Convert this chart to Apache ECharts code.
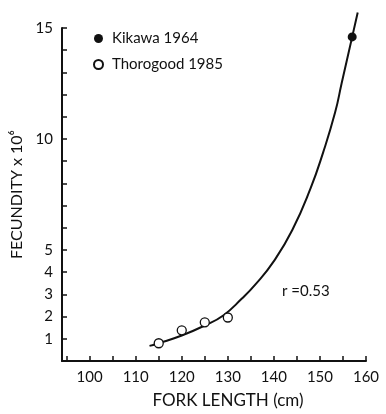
<!DOCTYPE html>
<html>
<head>
<meta charset="utf-8">
<script src="https://cdn.jsdelivr.net/npm/echarts@6/dist/echarts.min.js"></script>
<style>
  html, body { margin: 0; padding: 0; background: #fff; }
  #chart { width: 386px; height: 414px; }
</style>
</head>
<body>
<div id="chart"></div>
<script>
// fitted curve
var curveX = [113, 115, 120, 125, 129, 133, 136, 140, 144, 148, 150.7, 153.3, 154.7, 157, 158.2];
var curveY = [0.68, 0.8, 1.15, 1.6, 2.05, 2.8, 3.45, 4.5, 5.9, 7.8, 9.4, 11.2, 12.5, 14.6, 15.7];

var kikawaX = [157];
var kikawaY = [14.6];
var thorogoodX = [115, 120, 125, 130];
var thorogoodY = [0.8, 1.38, 1.74, 1.96];

var xTicks = [95, 100, 105, 110, 115, 120, 125, 130, 135, 140, 145, 150, 155, 160];
var xLabels = [100, 110, 120, 130, 140, 150, 160];
var yTicks = [1, 2, 3, 4, 5, 6, 7, 8, 9, 10, 11, 12, 13, 14, 15];
var yLabels = [1, 2, 3, 4, 5, 10, 15];

function pairs(xs, ys) {
  var out = [];
  for (var i = 0; i < xs.length; i++) out.push([xs[i], ys[i]]);
  return out;
}

var font = "Lato";
var myChart = echarts.init(document.getElementById("chart"));
var option = {
  animation: false,
  textStyle: { fontFamily: font, color: "#111" },
  grid: { left: 62, right: 20, top: 28, bottom: 50 },
  legend: {
    orient: "vertical",
    left: 88,
    top: 26,
    itemWidth: 9,
    itemHeight: 9,
    itemGap: 11,
    textStyle: { fontFamily: font, fontSize: 15, color: "#111", padding: [0, 0, 0, 4] },
    data: [
      { name: "Kikawa 1964", icon: "circle" },
      { name: "Thorogood 1985", icon: "circle" },
    ],
  },
  xAxis: {
    type: "value",
    min: 94,
    max: 160,
    name: "FORK LENGTH (cm)",
    nameLocation: "middle",
    nameGap: 31,
    nameTextStyle: { fontFamily: font, fontSize: 17, color: "#111", padding: [0, 0, 0, 28] },
    splitLine: { show: false },
    axisLine: { lineStyle: { color: "#111", width: 2 } },
    axisTick: { inside: true, length: 5, customValues: xTicks, lineStyle: { color: "#111", width: 1.5 } },
    axisLabel: { customValues: xLabels, fontSize: 15, margin: 9, color: "#111" },
  },
  yAxis: {
    type: "value",
    min: 0,
    max: 15,
    name: "FECUNDITY x 10\u2076",
    nameLocation: "middle",
    nameRotate: 90,
    nameGap: 31,
    nameTextStyle: { fontFamily: font, fontSize: 16, color: "#111" },
    splitLine: { show: false },
    axisLine: { lineStyle: { color: "#111", width: 2 } },
    axisTick: { inside: true, length: 5, customValues: yTicks, lineStyle: { color: "#111", width: 1.5 } },
    axisLabel: { customValues: yLabels, fontSize: 15, margin: 9, color: "#111" },
  },
  series: [
    {
      name: "fit",
      type: "line",
      smooth: 0.5,
      showSymbol: false,
      silent: true,
      clip: false,
      data: pairs(curveX, curveY),
      lineStyle: { color: "#111", width: 2 },
      z: 1,
    },
    {
      name: "Kikawa 1964",
      type: "scatter",
      symbol: "circle",
      symbolSize: 9,
      data: pairs(kikawaX, kikawaY),
      itemStyle: { color: "#111", opacity: 1 },
      z: 3,
    },
    {
      name: "Thorogood 1985",
      type: "scatter",
      symbol: "circle",
      symbolSize: 9,
      data: pairs(thorogoodX, thorogoodY),
      itemStyle: { color: "#fff", borderColor: "#111", borderWidth: 1.3, opacity: 1 },
      z: 3,
    },
  ],
  graphic: [
    {
      type: "text",
      left: 282,
      top: 284,
      style: { text: "r =0.53", fontFamily: font, fontSize: 15, fill: "#111" },
    },
  ],
};
myChart.setOption(option);
</script>
</body>
</html>
